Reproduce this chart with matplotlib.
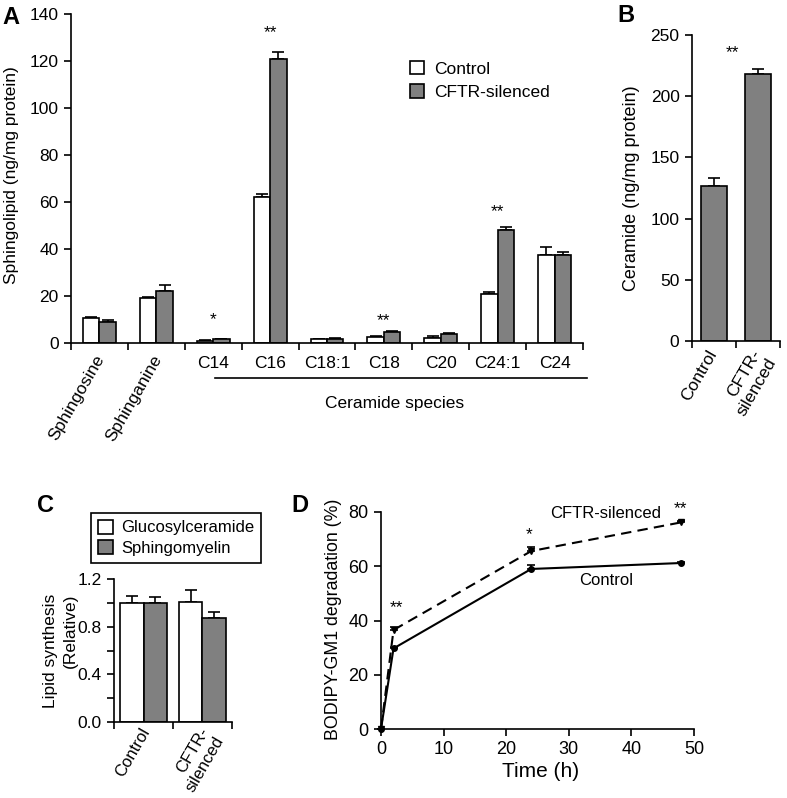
import matplotlib as mpl
mpl.use('Agg')
import matplotlib.pyplot as plt
from matplotlib.patches import Patch
import numpy as np

plt.rcParams['font.family'] = ['Liberation Sans', 'DejaVu Sans']
plt.rcParams['font.size'] = 12.5

W, H = 787, 798
GRAY = '#808080'
FS = 12.5

# ---- panel A data
a_cats = ['Sphingosine', 'Sphinganine', 'C14', 'C16', 'C18:1', 'C18', 'C20', 'C24:1', 'C24']
a_ctrl = [10.5, 19.0, 1.0, 62.0, 1.5, 2.5, 2.3, 21.0, 37.5]
a_ctrl_err = [0.6, 0.4, 0.3, 1.5, 0.3, 0.3, 0.6, 0.6, 3.2]
a_cftr = [9.0, 22.0, 1.5, 121.0, 1.8, 4.7, 4.0, 48.0, 37.5]
a_cftr_err = [0.7, 2.6, 0.3, 2.8, 0.3, 0.3, 0.3, 1.5, 1.2]
a_stars = ['', '', '*', '**', '', '**', '', '**', '']
a_star_y = [0, 0, 8.2, 130.0, 0, 7.4, 0, 54.2, 0]

# ---- panel B data
b_cats = ['Control', 'CFTR-\nsilenced']
b_vals = [127.0, 218.0]
b_err = [6.0, 4.0]

# ---- panel C data
c_cats = ['Control', 'CFTR-\nsilenced']
c_gluc = [1.0, 1.01]
c_gluc_err = [0.06, 0.10]
c_sphm = [1.0, 0.87]
c_sphm_err = [0.05, 0.05]

# ---- panel D data
d_time = [0, 2, 24, 48]
d_ctrl = [0, 29.7, 59.0, 61.2]
d_ctrl_err = [0, 0.5, 1.4, 0.5]
d_cftr = [0, 36.5, 65.6, 76.2]
d_cftr_err = [0, 1.0, 1.5, 0.5]


def box(l, r, t, b):
    return [l / W, 1 - b / H, (r - l) / W, (b - t) / H]


def style(ax, fs=FS):
    for s in ['top', 'right']:
        ax.spines[s].set_visible(False)
    for s in ['left', 'bottom']:
        ax.spines[s].set_linewidth(1.2)
    ax.tick_params(which='both', direction='out', length=5, width=1.2, pad=4, labelsize=fs)


fig = plt.figure(figsize=(W / 100, H / 100), dpi=100)

# ================= A
ax = fig.add_axes(box(71, 583, 14, 343))
style(ax)
x = np.arange(len(a_cats)) + 0.5
bw = 0.29
ax.bar(x - bw / 2, a_ctrl, bw, color='white', edgecolor='black', lw=1.2, zorder=2)
ax.bar(x + bw / 2, a_cftr, bw, color=GRAY, edgecolor='black', lw=1.2, zorder=2)
ax.errorbar(x - bw / 2, a_ctrl, yerr=[np.zeros(len(x)), a_ctrl_err], fmt='none', ecolor='black',
            elinewidth=1.2, capsize=4, capthick=1.2, zorder=1)
ax.errorbar(x + bw / 2, a_cftr, yerr=[np.zeros(len(x)), a_cftr_err], fmt='none', ecolor='black',
            elinewidth=1.2, capsize=4, capthick=1.2, zorder=1)
ax.set_xlim(0, 9)
ax.set_ylim(0, 140)
ax.set_yticks(range(0, 141, 20))
ax.set_xticks(range(0, 10))
ax.set_xticklabels([])
ax.set_xticks(x, minor=True)
ax.set_xticklabels([''] * 2 + a_cats[2:], minor=True)
ax.tick_params(axis='x', which='minor', length=0, pad=9)
for i in range(2):
    ax.text(x[i] + 0.14, -0.028, a_cats[i], transform=ax.get_xaxis_transform(),
            rotation=60, ha='right', va='top', fontsize=FS)
for xi, s, sy in zip(x, a_stars, a_star_y):
    if s:
        ax.text(xi, sy, s, ha='center', va='baseline', fontsize=FS)
ax.set_ylabel('Sphingolipid (ng/mg protein)', fontsize=12.5)
ax.yaxis.set_label_coords(-0.102, 0.51)
tr = ax.get_xaxis_transform()
ax.plot([2.53, 9.07], [-0.107, -0.107], transform=tr, color='black', lw=1.2, clip_on=False)
ax.text(5.68, -0.183, 'Ceramide species', transform=tr, ha='center', va='center', fontsize=FS)
ax.legend(handles=[Patch(facecolor='white', edgecolor='black', lw=1.2),
                   Patch(facecolor=GRAY, edgecolor='black', lw=1.2)],
          labels=['Control', 'CFTR-silenced'], loc='upper left',
          bbox_to_anchor=(410 / W, 1 - 61 / H), bbox_transform=fig.transFigure,
          frameon=False, handlelength=0.8, handleheight=0.8, handletextpad=0.6,
          labelspacing=0.45, borderpad=0, borderaxespad=0, fontsize=FS)

# ================= B
bx = fig.add_axes(box(692, 780, 35, 341))
style(bx)
xb = np.arange(len(b_cats)) + 0.5
bx.bar(xb, b_vals, 0.58, color=GRAY, edgecolor='black', lw=1.2, zorder=2)
bx.errorbar(xb, b_vals, yerr=[np.zeros(2), b_err], fmt='none', ecolor='black',
            elinewidth=1.2, capsize=4, capthick=1.2, zorder=1)
bx.set_xlim(0, 2)
bx.set_ylim(0, 250)
bx.set_yticks(range(0, 251, 50))
bx.set_xticks([0, 1, 2])
bx.set_xticklabels([])
for xi, lab in zip(xb, b_cats):
    bx.text(xi - 0.17, -0.02, lab, transform=bx.get_xaxis_transform(), rotation=60,
            rotation_mode='anchor', ha='right', va='top', fontsize=FS, multialignment='right')
bx.text(0.93, 232.3, '**', ha='center', va='baseline', fontsize=FS)
bx.set_ylabel('Ceramide (ng/mg protein)', fontsize=13)
bx.yaxis.set_label_coords(-0.59, 0.5)

# ================= C
cx = fig.add_axes(box(114, 232, 579, 722))
style(cx)
xc = np.arange(len(c_cats)) + 0.5
cw = 0.4
cx.bar(xc - cw / 2, c_gluc, cw, color='white', edgecolor='black', lw=1.2, zorder=2)
cx.bar(xc + cw / 2, c_sphm, cw, color=GRAY, edgecolor='black', lw=1.2, zorder=2)
cx.errorbar(xc - cw / 2, c_gluc, yerr=[np.zeros(2), c_gluc_err], fmt='none', ecolor='black',
            elinewidth=1.2, capsize=4, capthick=1.2, zorder=1)
cx.errorbar(xc + cw / 2, c_sphm, yerr=[np.zeros(2), c_sphm_err], fmt='none', ecolor='black',
            elinewidth=1.2, capsize=4, capthick=1.2, zorder=1)
cx.set_xlim(0, 2)
cx.set_ylim(0, 1.2)
cx.set_yticks([0, 0.4, 0.8, 1.2])
cx.set_yticklabels(['0.0', '0.4', '0.8', '1.2'])
cx.set_yticks([0.2, 0.6, 1.0], minor=True)
cx.set_xticks([0, 1, 2])
cx.set_xticklabels([])
for xi, lab in zip(xc, c_cats):
    cx.text(xi - 0.07, -0.02, lab, transform=cx.get_xaxis_transform(), rotation=60,
            rotation_mode='anchor', ha='right', va='top', fontsize=12, multialignment='right')
cx.set_ylabel('Lipid synthesis\n(Relative)', fontsize=FS, linespacing=1.35)
cx.yaxis.label.set_multialignment('right')
cx.yaxis.set_label_coords(-0.31, 0.5)
leg = cx.legend(handles=[Patch(facecolor='white', edgecolor='black', lw=1.2),
                         Patch(facecolor=GRAY, edgecolor='black', lw=1.2)],
                labels=['Glucosylceramide', 'Sphingomyelin'], loc='upper left',
                bbox_to_anchor=(91 / W, 1 - 513 / H), bbox_transform=fig.transFigure,
                frameon=True, fancybox=False, edgecolor='black', framealpha=1,
                handlelength=0.9, handleheight=0.9, handletextpad=0.5,
                labelspacing=0.3, borderpad=0.4, borderaxespad=0, fontsize=12)
leg.get_frame().set_linewidth(1.2)

# ================= D
dx = fig.add_axes(box(381, 694, 512, 729))
style(dx, 13)
dx.errorbar(d_time, d_ctrl, yerr=[np.zeros(4), d_ctrl_err], color='black', lw=1.5,
            marker='o', ms=4, capsize=3, capthick=1.2, elinewidth=1.2, clip_on=False)
dx.errorbar(d_time, d_cftr, yerr=[np.zeros(4), d_cftr_err], color='black', lw=1.5,
            ls=(0, (5, 3)), marker='v', ms=5, capsize=3, capthick=1.2, elinewidth=1.2, clip_on=False)
dx.set_xlim(0, 50)
dx.set_ylim(0, 80)
dx.set_xticks(range(0, 51, 10))
dx.set_yticks(range(0, 81, 20))
dx.set_xlabel('Time (h)', fontsize=15)
dx.xaxis.set_label_coords(0.51, -0.15)
dx.set_ylabel('BODIPY-GM1 degradation (%)', fontsize=12.8)
dx.yaxis.set_label_coords(-0.125, 0.507)
dx.text(35.9, 79.3, 'CFTR-silenced', ha='center', va='center', fontsize=12)
dx.text(35.9, 54.9, 'Control', ha='center', va='center', fontsize=12)
dx.text(2.4, 43.2, '**', ha='center', va='baseline', fontsize=FS)
dx.text(23.6, 70.1, '*', ha='center', va='baseline', fontsize=FS)
dx.text(47.9, 79.6, '**', ha='center', va='baseline', fontsize=FS)

# panel letters
for lab, px, py in [('A', 11, 17), ('B', 626, 15), ('C', 45, 505), ('D', 300, 505)]:
    fig.text(px / W, 1 - py / H, lab, fontsize=17, fontweight='bold', ha='center', va='center')

fig.savefig('out.png', dpi=100)
